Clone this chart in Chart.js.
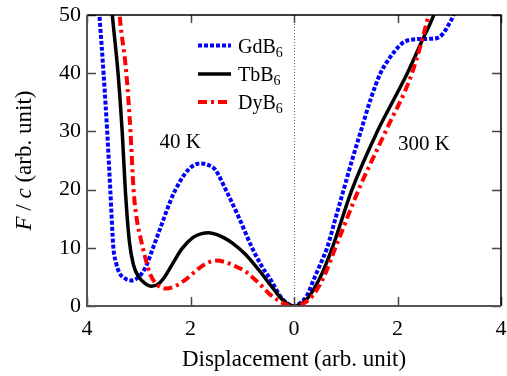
<!DOCTYPE html>
<html>
<head>
<meta charset="utf-8">
<script src="https://cdn.jsdelivr.net/npm/chart.js@4/dist/chart.umd.min.js"></script>
<style>
  html, body { margin: 0; padding: 0; background: #fff; }
  canvas { display: block; }
</style>
</head>
<body>
<canvas id="myChart" width="507" height="376"></canvas>
<script>
// values (displacement, F/c)
const gdX = [-3.86, -3.76, -3.68, -3.61, -3.55, -3.49, -3.44, -3.38, -3.26, -3.12, -2.98, -2.86, -2.74, -2.55, -2.40, -2.29, -2.10, -1.95, -1.81, -1.65, -1.52, -1.32, -1.07, -0.81, -0.62, -0.45, -0.26, -0.12, 0, 0.12, 0.25, 0.38, 0.50, 0.64, 0.80, 0.96, 1.12, 1.29, 1.48, 1.67, 1.80, 1.93, 2.10, 2.30, 2.60, 2.75, 2.88, 2.98, 3.08, 3.20];
const gdY = [62, 50, 40, 30, 20, 10, 7.5, 5.8, 4.7, 4.4, 5.2, 6.8, 9.6, 14.2, 17.8, 20, 22.8, 24.1, 24.5, 24.2, 23.4, 20, 15.3, 10, 6.8, 4.5, 1.6, 0.4, 0, 0.5, 1.8, 4.5, 7.0, 10, 15, 20, 25, 30, 35.5, 40, 42, 43.6, 45.2, 45.8, 45.9, 46.0, 46.8, 48.2, 50, 54];

const tbX = [-3.60, -3.51, -3.40, -3.32, -3.26, -3.18, -3.10, -3.00, -2.88, -2.75, -2.62, -2.50, -2.35, -2.16, -1.95, -1.80, -1.65, -1.50, -1.35, -1.19, -0.94, -0.68, -0.42, -0.20, 0, 0.25, 0.50, 0.74, 1.12, 1.61, 1.90, 2.19, 2.48, 2.70, 2.80];
const tbY = [60, 50, 40, 30, 20, 11, 7.0, 5.0, 3.9, 3.4, 3.8, 5.0, 7.2, 9.9, 11.8, 12.4, 12.6, 12.3, 11.7, 10.8, 8.9, 6.2, 3.2, 0.9, 0, 1.2, 4.8, 10, 20, 30, 35, 40, 45.7, 50, 53];

const dyX = [-3.45, -3.37, -3.24, -3.16, -3.10, -3.04, -2.96, -2.88, -2.78, -2.65, -2.48, -2.30, -2.10, -1.90, -1.72, -1.52, -1.35, -1.13, -0.95, -0.81, -0.62, -0.49, -0.30, -0.12, 0, 0.30, 0.55, 0.80, 1.25, 1.77, 2.28, 2.60, 2.70];
const dyY = [60, 50, 40, 30, 20, 15, 11.5, 8.5, 5.5, 3.7, 3.0, 3.4, 4.5, 6.0, 7.2, 7.8, 7.6, 6.8, 6.0, 5.0, 3.4, 2.2, 0.9, 0.15, 0, 1.2, 4.5, 10, 20, 30, 40, 50, 54];

const seriesNames = ['GdB', 'TbB', 'DyB'];
const xTicks = [-4, -2, 0, 2, 4];
const yTicks = [0, 10, 20, 30, 40, 50];
const notes = [{ text: '40 K', x: -2.20, y: 28.1 }, { text: '300 K', x: 2.51, y: 27.8 }];

const serif = "'Liberation Serif', 'DejaVu Serif', serif";

function pts(xs, ys) {
    return xs.map((x, i) => ({ x: x, y: ys[i] }));
}

// inward ticks on all four sides + frame
const framePlugin = {
    id: 'frame',
    afterDraw(chart) {
        const c = chart.ctx, a = chart.chartArea;
        const xs = chart.scales.x, ys = chart.scales.y;
        c.save();
        c.lineCap = 'butt';
        // ticks
        c.strokeStyle = '#444';
        c.lineWidth = 1.5;
        xTicks.forEach(v => {
            const px = Math.round(xs.getPixelForValue(v)) + 0.5;
            c.beginPath();
            c.moveTo(px, a.bottom); c.lineTo(px, a.bottom - 9);
            c.moveTo(px, a.top); c.lineTo(px, a.top + 8);
            c.stroke();
        });
        yTicks.forEach(v => {
            const py = Math.round(ys.getPixelForValue(v)) + 0.5;
            c.beginPath();
            c.moveTo(a.left, py); c.lineTo(a.left + 9, py);
            c.moveTo(a.right, py); c.lineTo(a.right - 9, py);
            c.stroke();
        });
        // frame
        c.strokeStyle = '#000';
        c.lineWidth = 1.5;
        c.beginPath();
        c.moveTo(a.left, a.top); c.lineTo(a.right, a.top); c.lineTo(a.right, a.bottom);
        c.stroke();
        c.strokeStyle = '#555';
        c.lineWidth = 2;
        c.beginPath();
        c.moveTo(a.left, a.top); c.lineTo(a.left, a.bottom); c.lineTo(a.right, a.bottom);
        c.stroke();

        // y title with italic F and c
        const parts = [['italic', 'F'], ['normal', ' / '], ['italic', 'c'], ['normal', ' (arb. unit)']];
        c.translate(25, (a.top + a.bottom) / 2);
        c.rotate(-Math.PI / 2);
        c.fillStyle = '#000';
        c.textBaseline = 'middle';
        let total = 0;
        parts.forEach(p => { c.font = p[0] + ' 23px ' + serif; total += c.measureText(p[1]).width; });
        let cx = -total / 2;
        parts.forEach(p => {
            c.font = p[0] + ' 23px ' + serif;
            c.fillText(p[1], cx, 0);
            cx += c.measureText(p[1]).width;
        });
        c.restore();
    }
};

// dotted line at zero displacement
const zeroPlugin = {
    id: 'zeroLine',
    beforeDatasetsDraw(chart) {
        const c = chart.ctx, a = chart.chartArea;
        const px = Math.round(chart.scales.x.getPixelForValue(0)) + 0.5;
        c.save();
        c.strokeStyle = '#666';
        c.lineWidth = 1;
        c.setLineDash([1, 2]);
        c.beginPath();
        c.moveTo(px, a.top); c.lineTo(px, a.bottom);
        c.stroke();
        c.restore();
    }
};

// legend with subscript and temperature notes
const labelPlugin = {
    id: 'labels',
    afterDatasetsDraw(chart) {
        const c = chart.ctx;
        const xs = chart.scales.x, ys = chart.scales.y;
        c.save();
        c.fillStyle = '#000';
        c.textBaseline = 'middle';
        c.textAlign = 'center';
        c.font = '21px ' + serif;
        notes.forEach(n => c.fillText(n.text, xs.getPixelForValue(n.x), ys.getPixelForValue(n.y)));

        c.textAlign = 'left';
        c.textBaseline = 'alphabetic';
        const rowY = [45.5, 74, 102];
        chart.data.datasets.forEach((ds, i) => {
            const y = rowY[i];
            c.strokeStyle = ds.borderColor;
            c.lineWidth = ds.borderWidth;
            c.setLineDash(ds.borderDash || []);
            c.beginPath();
            c.moveTo(198, y); c.lineTo(231, y);
            c.stroke();
            c.setLineDash([]);
            c.font = '20px ' + serif;
            c.fillText(seriesNames[i], 238, y + 7);
            const w = c.measureText(seriesNames[i]).width;
            c.font = '14px ' + serif;
            c.fillText('6', 238 + w, y + 11);
        });
        c.restore();
    }
};

const ctx = document.getElementById('myChart').getContext('2d');
const myChart = new Chart(ctx, {
    type: 'line',
    data: {
        datasets: [{
            label: 'GdB6',
            data: pts(gdX, gdY),
            borderColor: 'rgb(0, 0, 255)',
            borderWidth: 4,
            borderDash: [4, 2],
            order: 3
        }, {
            label: 'TbB6',
            data: pts(tbX, tbY),
            borderColor: '#000',
            borderWidth: 3.5,
            order: 2
        }, {
            label: 'DyB6',
            data: pts(dyX, dyY),
            borderColor: 'rgb(255, 0, 0)',
            borderWidth: 4,
            borderDash: [9, 4, 3, 4],
            order: 1
        }]
    },
    options: {
        responsive: false,
        animation: false,
        devicePixelRatio: 1,
        clip: 0,
        elements: {
            point: { radius: 0 },
            line: { cubicInterpolationMode: 'monotone', borderCapStyle: 'butt', fill: false }
        },
        layout: { padding: { top: 15, right: 6, left: 0, bottom: 0 } },
        plugins: {
            legend: { display: false },
            tooltip: { enabled: false }
        },
        scales: {
            x: {
                type: 'linear',
                min: -4,
                max: 4,
                afterFit: s => { s.height = 70; s.paddingLeft = 0; s.paddingRight = 0; },
                afterBuildTicks: s => { s.ticks = xTicks.map(v => ({ value: v })); },
                grid: { display: false, drawTicks: false },
                border: { display: false },
                ticks: {
                    padding: 10,
                    color: '#000',
                    font: { family: serif, size: 22 },
                    callback: v => Math.abs(v)
                },
                title: {
                    display: true,
                    text: 'Displacement (arb. unit)',
                    color: '#000',
                    font: { family: serif, size: 23 },
                    padding: { top: 0, bottom: 2 }
                }
            },
            y: {
                type: 'linear',
                min: 0,
                max: 50,
                afterFit: s => { s.width = 87; s.paddingTop = 0; s.paddingBottom = 0; },
                afterBuildTicks: s => { s.ticks = yTicks.map(v => ({ value: v })); },
                grid: { display: false, drawTicks: false },
                border: { display: false },
                ticks: {
                    padding: 6,
                    color: '#000',
                    font: { family: serif, size: 22 }
                }
            }
        }
    },
    plugins: [zeroPlugin, labelPlugin, framePlugin]
});
</script>
</body>
</html>
